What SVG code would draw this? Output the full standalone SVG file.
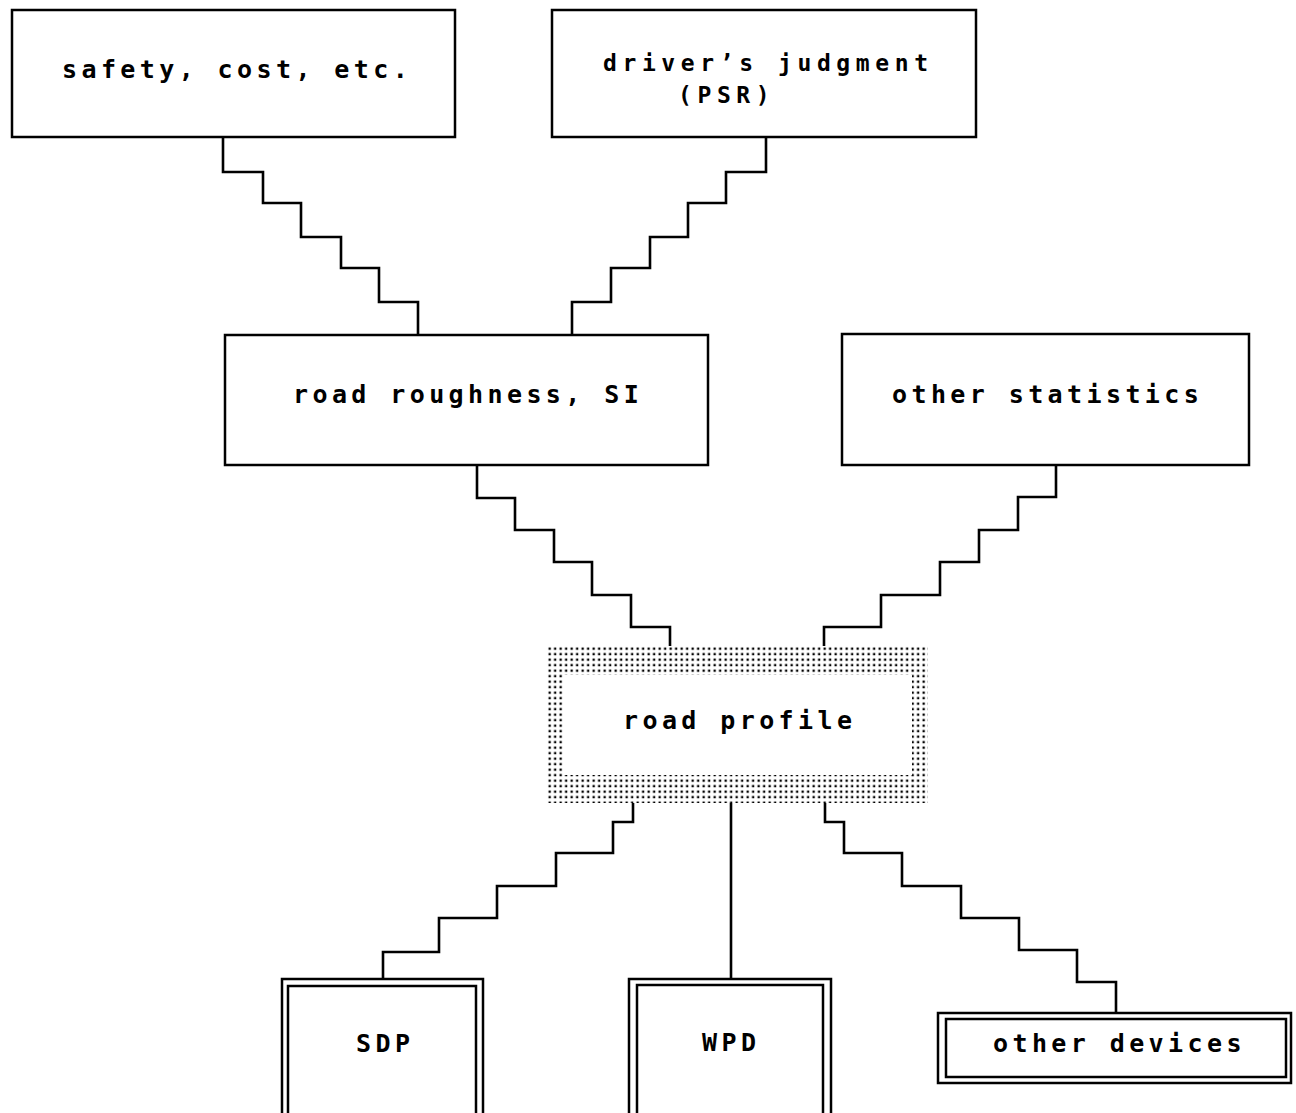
<svg xmlns="http://www.w3.org/2000/svg" width="1296" height="1113" viewBox="0 0 1296 1113">
<style>
.box{fill:#fff;stroke:#000;stroke-width:2.5}
.dbl{fill:none;stroke:#000;stroke-width:2.5}
.lbl{font-family:"DejaVu Sans Mono","Liberation Mono",monospace;font-size:25px;font-weight:bold;letter-spacing:4.4px;fill:#000}
.sm{font-size:23px;letter-spacing:5.6px}
.conn path{fill:none;stroke:#000;stroke-width:2.6;stroke-linejoin:miter}
</style>
<defs>
<pattern id="dots" x="547" y="646" width="5.5" height="5.5" patternUnits="userSpaceOnUse">
<rect x="1.5" y="1.5" width="2.3" height="2.3" fill="#000"/>
</pattern>
</defs>
<rect width="1296" height="1113" fill="#fff"/>
<g class="conn">
<path d="M223,137 V172 H263 V203 H301 V237 H341 V268 H379 V302 H418 V335"/>
<path d="M766,137 V172 H726 V203 H688 V237 H650 V268 H611 V302 H572 V335"/>
<path d="M477,465 V498 H515 V530 H554 V562 H592 V595 H631 V627 H670 V646"/>
<path d="M1056,465 V497 H1018 V530 H979 V562 H940 V595 H881 V627 H824 V646"/>
<path d="M633,803 V822 H613 V853 H556 V886 H497 V918 H439 V952 H383 V979"/>
<path d="M731,803 V979"/>
<path d="M825,803 V822 H844 V853 H902 V886 H961 V918 H1019 V950 H1077 V982 H1116 V1013"/>
</g>
<g id="safety">
<rect class="box" x="12" y="10" width="443" height="127"/>
<text class="lbl" x="62" y="78">safety, cost, etc.</text>
</g>
<g id="driver">
<rect class="box" x="552" y="10" width="424" height="127"/>
<text class="lbl sm" x="603" y="71">driver’s judgment</text>
<text class="lbl sm" x="678" y="103">(PSR)</text>
</g>
<g id="roughness">
<rect class="box" x="225" y="335" width="483" height="130"/>
<text class="lbl" x="293" y="403">road roughness, SI</text>
</g>
<g id="otherstats">
<rect class="box" x="842" y="334" width="407" height="131"/>
<text class="lbl" x="892" y="403">other statistics</text>
</g>
<g id="profile">
<rect x="547" y="646" width="381" height="157" fill="url(#dots)"/>
<rect x="563" y="675" width="349" height="100" fill="#fff"/>
<text class="lbl" x="623" y="729">road profile</text>
</g>
<g id="sdp">
<rect class="dbl" x="282" y="979" width="201" height="150"/>
<rect class="dbl" x="288" y="986" width="188" height="140"/>
<text class="lbl" x="356" y="1052">SDP</text>
</g>
<g id="wpd">
<rect class="dbl" x="629" y="979" width="202" height="150"/>
<rect class="dbl" x="637" y="985" width="186" height="140"/>
<text class="lbl" x="702" y="1051">WPD</text>
</g>
<g id="otherdevices">
<rect class="dbl" x="938" y="1013" width="353" height="70"/>
<rect class="dbl" x="946" y="1019" width="340" height="58"/>
<text class="lbl" x="993" y="1052">other devices</text>
</g>
</svg>
